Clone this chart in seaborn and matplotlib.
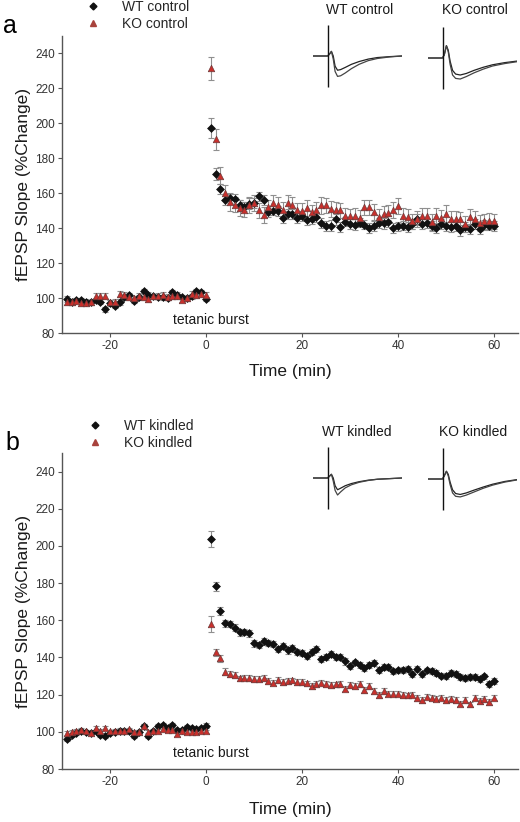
"""
fEPSP slope (LTP) time course, control vs kindled, WT vs KO.
Two stacked panels with example traces as insets.
"""

import numpy as np
import pandas as pd
import matplotlib
matplotlib.use("Agg")
import matplotlib.pyplot as plt
from matplotlib.lines import Line2D
import seaborn as sns

# Data

TIME_BASE = list(range(-29, 1))
TIME_POST = list(range(1, 61))

# panel a: control
WT_CTRL_BASE = [99.4, 98.0, 99.0, 98.7, 98.0, 97.5, 98.7, 98.0, 93.6, 97.0,
                95.6, 97.7, 100.5, 101.7, 98.5, 100.5, 103.8, 101.7, 101.3, 100.5,
                100.4, 100.0, 103.2, 101.7, 100.5, 100.0, 101.0, 103.8, 103.2, 99.4]
WT_CTRL_POST = [197.4, 171.0, 162.4, 155.9, 157.2, 156.8, 153.0, 152.4, 154.0, 154.5,
                158.2, 156.0, 149.0, 150.0, 149.7, 146.0, 148.0, 148.0, 146.0, 147.0,
                144.4, 145.0, 146.5, 142.9, 141.4, 141.4, 145.0, 140.6, 143.8, 142.5,
                142.0, 143.2, 142.0, 140.0, 141.4, 143.0, 142.8, 143.8, 140.0, 141.0,
                141.4, 140.6, 142.5, 145.0, 142.5, 143.0, 141.4, 140.0, 142.3, 141.0,
                140.6, 141.4, 138.7, 140.6, 139.5, 142.5, 139.5, 142.0, 141.4, 141.0]
KO_CTRL_BASE = [97.9, 97.5, 98.5, 97.0, 97.0, 97.5, 101.3, 101.3, 101.3, 97.5,
                98.0, 102.3, 102.0, 100.4, 99.8, 101.3, 100.4, 99.4, 101.0, 101.3,
                101.7, 100.4, 101.3, 101.0, 99.0, 99.8, 102.3, 101.7, 102.3, 101.7]
KO_CTRL_POST = [231.4, 191.0, 170.0, 160.4, 154.7, 153.5, 151.5, 150.6, 153.4, 154.4,
                150.2, 147.8, 152.0, 154.6, 153.4, 150.6, 154.6, 153.4, 150.2, 149.7,
                151.5, 149.0, 150.6, 153.0, 153.0, 151.0, 150.2, 150.2, 147.2, 146.8,
                147.2, 145.9, 152.0, 152.0, 149.0, 146.5, 148.4, 148.8, 150.2, 152.5,
                147.2, 146.5, 144.0, 145.4, 147.2, 146.8, 143.5, 147.2, 146.0, 148.4,
                145.4, 145.4, 145.0, 142.5, 146.5, 145.4, 143.0, 144.0, 144.0, 144.0]

WT_CTRL_SEM_BASE = [1.5, 1.2, 1.3, 1.2, 1.4, 1.3, 1.2, 1.5, 1.3, 1.8,
                    1.4, 1.6, 1.3, 1.2, 1.4, 1.3, 1.2, 1.5, 1.3, 1.2,
                    1.4, 1.2, 1.3, 1.5, 1.2, 1.3, 1.4, 1.2, 1.5, 1.3]
WT_CTRL_SEM_POST = [5.5, 3.2, 2.8, 2.6, 2.9, 3.0, 3.1, 2.8, 3.0, 2.9,
                    2.7, 3.0, 2.8, 2.6, 2.9, 3.0, 2.8, 2.7, 2.9, 3.1,
                    2.8, 2.6, 2.9, 2.7, 2.8, 3.0, 2.9, 2.8, 2.7, 2.9,
                    3.0, 2.8, 2.6, 2.9, 2.8, 2.7, 3.0, 2.9, 2.8, 2.6,
                    2.7, 2.9, 2.8, 3.0, 2.7, 2.8, 2.9, 2.6, 2.8, 2.7,
                    2.9, 2.8, 3.0, 2.7, 2.8, 2.9, 2.6, 2.8, 2.7, 2.9]
KO_CTRL_SEM_BASE = [1.6, 1.5, 1.4, 1.7, 1.5, 1.6, 1.8, 1.5, 1.7, 1.6,
                    1.5, 1.7, 1.6, 1.4, 1.5, 1.6, 1.7, 1.5, 1.4, 1.6,
                    1.5, 1.7, 1.6, 1.5, 1.4, 1.6, 1.5, 1.7, 1.6, 1.5]
KO_CTRL_SEM_POST = [6.8, 6.0, 4.8, 4.5, 4.6, 4.4, 4.5, 4.3, 4.6, 4.5,
                    4.4, 4.6, 4.3, 4.5, 4.4, 4.6, 4.5, 4.3, 4.4, 4.6,
                    4.5, 4.4, 4.3, 4.6, 4.5, 4.4, 4.6, 4.3, 4.5, 4.4,
                    4.6, 4.5, 4.3, 4.4, 4.6, 4.5, 4.4, 4.3, 4.6, 4.5,
                    4.4, 4.6, 4.3, 4.5, 4.4, 4.6, 4.5, 4.3, 4.4, 4.6,
                    4.5, 4.4, 4.3, 4.6, 4.5, 4.4, 4.6, 4.3, 4.5, 4.4]

# panel b: kindled
WT_KIND_BASE = [96.2, 98.4, 99.3, 100.2, 99.8, 99.3, 100.2, 98.4, 97.8, 99.3,
                99.8, 100.2, 100.2, 100.5, 98.0, 99.8, 102.9, 98.0, 100.7, 102.9,
                103.8, 102.0, 103.8, 101.1, 101.1, 102.5, 102.0, 101.6, 102.0, 103.4]
WT_KIND_POST = [203.8, 178.2, 164.8, 158.5, 158.0, 156.0, 153.6, 153.6, 153.0, 147.7,
                146.8, 148.6, 148.0, 147.4, 144.5, 146.3, 143.8, 145.0, 142.7, 142.3,
                140.9, 142.9, 144.5, 139.3, 140.2, 142.0, 140.2, 140.2, 137.9, 135.6,
                137.4, 136.1, 134.3, 136.1, 137.0, 133.4, 134.8, 134.7, 132.5, 133.0,
                133.4, 133.8, 131.1, 133.8, 131.1, 133.0, 132.5, 131.6, 130.2, 130.2,
                131.6, 131.2, 129.4, 128.9, 129.4, 129.4, 128.3, 129.8, 125.8, 127.4]
KO_KIND_BASE = [99.3, 99.8, 100.7, 101.1, 100.2, 99.3, 102.0, 100.5, 102.0, 100.2,
                100.7, 100.7, 100.7, 101.4, 99.8, 99.8, 103.2, 99.8, 100.2, 100.7,
                101.4, 101.1, 101.1, 98.7, 100.2, 99.8, 99.8, 99.8, 100.2, 100.2]
KO_KIND_POST = [158.0, 142.7, 139.6, 132.4, 131.0, 130.5, 128.7, 129.2, 129.2, 128.3,
                128.3, 129.0, 127.4, 126.5, 127.8, 126.9, 127.4, 127.8, 126.9, 126.9,
                126.0, 124.6, 125.7, 126.5, 125.7, 125.1, 125.5, 125.7, 123.3, 125.1,
                124.6, 125.7, 122.4, 124.6, 122.0, 119.7, 121.9, 120.6, 120.6, 120.6,
                119.7, 119.7, 120.0, 118.4, 117.0, 118.8, 118.4, 117.9, 118.4, 117.0,
                117.9, 117.0, 115.2, 117.0, 114.8, 118.4, 116.6, 117.9, 116.1, 118.4]

WT_KIND_SEM_BASE = [1.2, 1.0, 1.1, 0.9, 1.0, 1.1, 1.0, 1.2, 1.1, 1.0,
                    0.9, 1.0, 1.1, 1.0, 1.2, 1.0, 1.1, 1.2, 1.0, 1.1,
                    1.0, 1.1, 1.2, 1.0, 1.1, 1.0, 0.9, 1.0, 1.1, 1.2]
WT_KIND_SEM_POST = [4.5, 2.6, 2.1, 1.9, 1.8, 1.9, 1.8, 1.7, 1.9, 1.8,
                    1.7, 1.8, 1.6, 1.7, 1.8, 1.6, 1.7, 1.8, 1.6, 1.7,
                    1.6, 1.7, 1.8, 1.6, 1.7, 1.6, 1.7, 1.6, 1.7, 1.6,
                    1.5, 1.6, 1.7, 1.6, 1.5, 1.6, 1.7, 1.6, 1.5, 1.6,
                    1.7, 1.6, 1.5, 1.6, 1.7, 1.5, 1.6, 1.7, 1.5, 1.6,
                    1.5, 1.6, 1.7, 1.5, 1.6, 1.5, 1.6, 1.5, 1.6, 1.7]
KO_KIND_SEM_BASE = [1.0, 1.1, 1.0, 0.9, 1.0, 1.1, 1.0, 1.0, 1.1, 0.9,
                    1.0, 1.1, 1.0, 0.9, 1.0, 1.1, 1.2, 1.0, 0.9, 1.0,
                    1.1, 1.0, 0.9, 1.0, 1.1, 1.0, 0.9, 1.0, 1.1, 1.0]
KO_KIND_SEM_POST = [4.3, 2.1, 1.9, 1.8, 1.7, 1.6, 1.6, 1.5, 1.6, 1.5,
                    1.5, 1.6, 1.5, 1.4, 1.5, 1.6, 1.5, 1.4, 1.5, 1.5,
                    1.4, 1.5, 1.6, 1.5, 1.4, 1.5, 1.5, 1.4, 1.5, 1.6,
                    1.5, 1.4, 1.5, 1.5, 1.4, 1.5, 1.6, 1.5, 1.4, 1.5,
                    1.5, 1.4, 1.5, 1.6, 1.5, 1.4, 1.5, 1.5, 1.4, 1.5,
                    1.6, 1.5, 1.4, 1.5, 1.5, 1.4, 1.5, 1.6, 1.5, 1.4]

# example field potential traces (arbitrary units, ms after stimulus)
TRACE_MS = [-5, -0.3, 0.3, 1.0, 1.6, 2.2, 3.0, 4.0, 5.5, 7.5, 10, 13, 16, 20, 24]
WT_CTRL_PRE  = [0, 0, 0.05, 0.15, 0.0, -0.33, -0.46, -0.44, -0.37, -0.27, -0.18, -0.10, -0.05, -0.02, 0]
WT_CTRL_POST_TR = [0, 0, 0.05, 0.15, -0.1, -0.50, -0.66, -0.64, -0.55, -0.41, -0.27, -0.15, -0.08, -0.03, 0]
KO_CTRL_PRE  = [0, 0, 0.10, 0.40, 0.25, -0.10, -0.40, -0.52, -0.55, -0.50, -0.40, -0.30, -0.22, -0.15, -0.10]
KO_CTRL_POST_TR = [0, 0, 0.10, 0.40, 0.20, -0.20, -0.55, -0.66, -0.68, -0.60, -0.48, -0.36, -0.26, -0.18, -0.12]
WT_KIND_PRE  = [0, 0, 0.05, 0.12, 0.0, -0.25, -0.38, -0.33, -0.25, -0.18, -0.12, -0.07, -0.04, -0.02, 0]
WT_KIND_POST_TR = [0, 0, 0.05, 0.12, -0.1, -0.40, -0.55, -0.45, -0.32, -0.22, -0.14, -0.08, -0.04, -0.02, 0]
KO_KIND_PRE  = [0, 0, 0.10, 0.25, 0.15, -0.10, -0.35, -0.47, -0.50, -0.45, -0.36, -0.26, -0.17, -0.08, -0.02]
KO_KIND_POST_TR = [0, 0, 0.10, 0.25, 0.10, -0.18, -0.45, -0.56, -0.58, -0.52, -0.42, -0.30, -0.20, -0.10, -0.03]
ARTIFACT = [-1.0, 1.0]

# Style

WT_COLOR  = "#111111"
KO_COLOR  = "#c9302c"
KO_EDGE   = "#6e3a3a"
ERR_COLOR = "#8f8f8f"
AXIS_GREY = "#555555"
TEXT_DARK = "#1a1a1a"

sns.set_theme(style="ticks")
plt.rcParams["font.family"] = ["Liberation Sans", "DejaVu Sans"]
plt.rcParams["axes.unicode_minus"] = False

FIG_W, FIG_H = 520, 822


def px_rect(x0, y0, x1, y1):
    return [x0 / FIG_W, 1 - y1 / FIG_H, (x1 - x0) / FIG_W, (y1 - y0) / FIG_H]


def draw_panel(ax, wt, wt_sem, ko, ko_sem, burst_y):
    t = TIME_BASE + TIME_POST
    df = pd.DataFrame({
        "time": t + t,
        "slope": wt + ko,
        "sem": wt_sem + ko_sem,
        "group": ["WT"] * len(t) + ["KO"] * len(t),
    })
    for grp in ["WT", "KO"]:
        sub = df[df["group"] == grp]
        ax.errorbar(sub["time"], sub["slope"], yerr=sub["sem"], fmt="none",
                    ecolor=ERR_COLOR, elinewidth=0.8, capsize=2.0, capthick=0.8, zorder=1)
    sns.scatterplot(data=df[df["group"] == "WT"], x="time", y="slope", marker="D",
                    s=16, color=WT_COLOR, edgecolor=WT_COLOR, linewidth=0.5,
                    ax=ax, zorder=2, legend=False)
    sns.scatterplot(data=df[df["group"] == "KO"], x="time", y="slope", marker="^",
                    s=22, color=KO_COLOR, edgecolor=KO_EDGE, linewidth=0.5,
                    ax=ax, zorder=3, legend=False)

    ax.set_xlim(-30, 65)
    ax.set_ylim(80, 250)
    ax.set_xticks([-20, 0, 20, 40, 60])
    ax.set_yticks(range(80, 241, 20))
    ax.tick_params(length=3, width=0.8, color=AXIS_GREY, labelsize=8.5,
                   labelcolor="#333333", pad=2)
    sns.despine(ax=ax)
    for side in ["left", "bottom"]:
        ax.spines[side].set_color(AXIS_GREY)
        ax.spines[side].set_linewidth(1.0)

    ax.set_xlabel("Time (min)", fontsize=12.5, color=TEXT_DARK)
    ax.set_ylabel("fEPSP Slope (%Change)", fontsize=12.5, color=TEXT_DARK)
    ax.xaxis.set_label_coords(0.5, -0.105)
    ax.yaxis.set_label_coords(-0.068, 0.5)
    ax.text(1, burst_y, "tetanic burst", ha="center", va="center",
            fontsize=10, color=TEXT_DARK)


def draw_trace(fig, rect, pre, post, title, title_xy):
    iax = fig.add_axes(rect)
    iax.plot(TRACE_MS, pre, color="#222222", lw=0.9)
    iax.plot(TRACE_MS, post, color="#444444", lw=0.9)
    iax.vlines(0, ARTIFACT[0], ARTIFACT[1], color="#111111", lw=1.0)
    iax.set_xlim(-5, 24)
    iax.set_ylim(-1.1, 1.1)
    iax.axis("off")
    fig.text(title_xy[0] / FIG_W, 1 - title_xy[1] / FIG_H, title,
             ha="center", va="center", fontsize=10, color=TEXT_DARK)


def add_legend(fig, labels, x_px, y_px):
    handles = [
        Line2D([], [], ls="none", marker="D", ms=3.5, color=WT_COLOR),
        Line2D([], [], ls="none", marker="^", ms=4.2, color="#a8423c"),
    ]
    fig.legend(handles, labels, loc="upper left",
               bbox_to_anchor=(x_px / FIG_W, 1 - y_px / FIG_H),
               frameon=False, fontsize=10, handlelength=1.2, handletextpad=1.5,
               labelspacing=0.2, borderpad=0, borderaxespad=0, numpoints=1)


fig = plt.figure(figsize=(FIG_W / 100, FIG_H / 100), dpi=100)

ax_a = fig.add_axes(px_rect(62, 36, 518, 333))
draw_panel(ax_a, WT_CTRL_BASE + WT_CTRL_POST, WT_CTRL_SEM_BASE + WT_CTRL_SEM_POST,
           KO_CTRL_BASE + KO_CTRL_POST, KO_CTRL_SEM_BASE + KO_CTRL_SEM_POST, 87.5)

ax_b = fig.add_axes(px_rect(62, 453, 518, 769))
draw_panel(ax_b, WT_KIND_BASE + WT_KIND_POST, WT_KIND_SEM_BASE + WT_KIND_SEM_POST,
           KO_KIND_BASE + KO_KIND_POST, KO_KIND_SEM_BASE + KO_KIND_SEM_POST, 88.5)

draw_trace(fig, px_rect(313, 22, 402, 90), WT_CTRL_PRE, WT_CTRL_POST_TR, "WT control", (360, 10))
draw_trace(fig, px_rect(428, 24, 517, 92), KO_CTRL_PRE, KO_CTRL_POST_TR, "KO control", (475, 10))
draw_trace(fig, px_rect(313, 444, 402, 512), WT_KIND_PRE, WT_KIND_POST_TR, "WT kindled", (357, 432))
draw_trace(fig, px_rect(428, 445, 517, 513), KO_KIND_PRE, KO_KIND_POST_TR, "KO kindled", (473, 432))

add_legend(fig, ["WT control", "KO control"], 85, 0)
add_legend(fig, ["WT kindled", "KO kindled"], 87, 419)

fig.text(10 / FIG_W, 1 - 26 / FIG_H, "a", ha="center", va="center", fontsize=18, color="#000000")
fig.text(12 / FIG_W, 1 - 443 / FIG_H, "b", ha="center", va="center", fontsize=18, color="#000000")

fig.savefig("out.png", dpi=100, facecolor="white")
plt.close(fig)
